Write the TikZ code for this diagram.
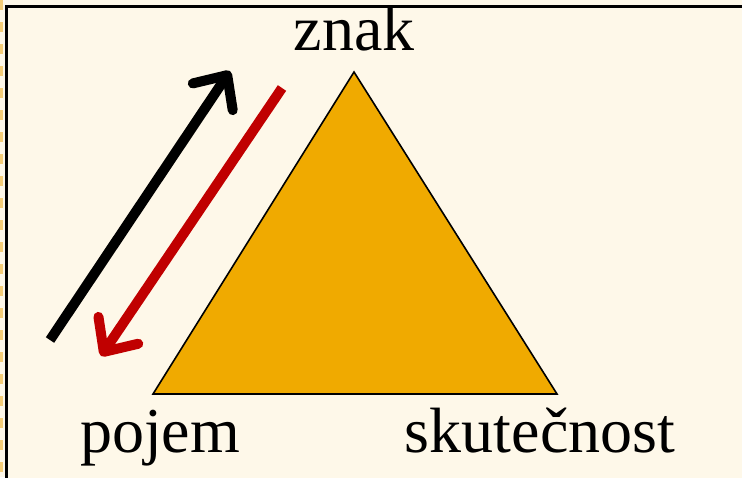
\documentclass[tikz,border=0pt]{standalone}
\usepackage{fontspec}
\setmainfont{Liberation Serif}
\usepackage{xcolor}
\usepackage{tikz}
\usetikzlibrary{arrows.meta, positioning}
\definecolor{paper}{RGB}{254, 248, 233}
\definecolor{triorange}{RGB}{240, 170, 0}
\definecolor{arrowred}{RGB}{192, 0, 0}
\definecolor{edgedash}{RGB}{245, 205, 120}

\begin{document}
\begin{tikzpicture}[
  x=0.5pt, y=-0.5pt,
  every node/.style={font=\fontsize{32}{38}\selectfont, inner sep=0pt},
  word/.style={anchor=base},
  tri/.style={draw=black, line width=0.8pt, fill=triorange},
  flow/.style={line width=5pt, -{Straight Barb[length=13pt, width=24pt, line cap=round, line join=round]}},
  frame/.style={draw=black, line width=1.5pt, fill=paper}
]

  \useasboundingbox (0,0) rectangle (742,477);
  \fill[paper] (0,0) rectangle (742,477);
  \draw[edgedash, line width=1.5pt, dash pattern=on 5pt off 6pt] (1.5,0) -- (1.5,477);
  \begin{scope}
    \clip (0,0) rectangle (742,477);
    \draw[frame] (6,6) rectangle (800,520);
  \end{scope}

  % corners of the triangle
  \coordinate (top) at (354,72);
  \coordinate (left) at (153,394);
  \coordinate (right) at (557,394);
  \draw[tri] (top) -- (left) -- (right) -- cycle;

  \node[word] (znak) at (354,50) {znak};
  \node[word] (pojem) at (160,452) {pojem};
  \node[word] (skut) at (540,452) {skutečnost};

  % arrow ends
  \coordinate (upfrom) at (50,340);
  \coordinate (upto) at (230,71);
  \coordinate (downfrom) at (282,88);
  \coordinate (downto) at (101,356);

  \draw[flow, color=black] (upfrom) -- (upto);
  \draw[flow, color=arrowred] (downfrom) -- (downto);

\end{tikzpicture}
\end{document}
